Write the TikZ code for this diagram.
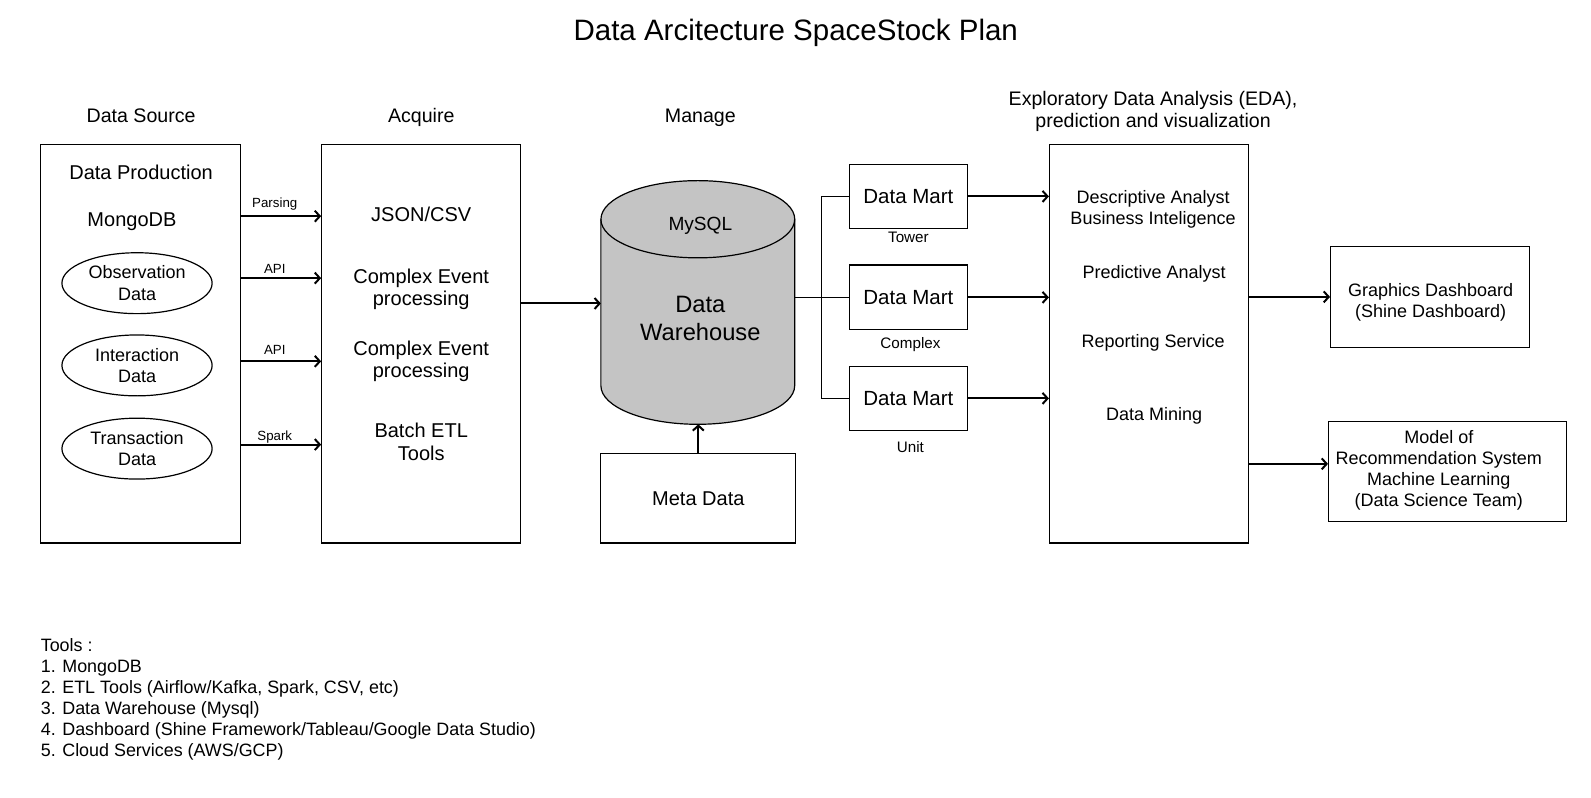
\documentclass[tikz,border=0pt]{standalone}
\usepackage{fontspec}
\setmainfont{Liberation Sans}
\usetikzlibrary{arrows.meta,shapes.geometric}
\definecolor{dwgray}{RGB}{196,196,196}
\newcommand{\uu}{1.015}
\tikzset{
  box/.style={draw, line width=1.2pt, inner sep=0pt},
  oval/.style={draw, ellipse, line width=1.2pt, inner sep=0pt, minimum width=\uu*148pt, minimum height=\uu*60pt, align=center, font=\fontsize{18}{21.3}\selectfont},
  arr/.style={line width=2pt, -{Straight Barb[length=5pt,width=11pt,line width=2pt]}},
  link/.style={line width=1.2pt},
  lbl/.style={font=\fontsize{13.3}{15}\selectfont, inner sep=0pt, anchor=base},
  hdr/.style={font=\fontsize{19.6}{22.3}\selectfont, align=center},
  txt/.style={font=\fontsize{20}{22.5}\selectfont, align=center},
  dmtxt/.style={font=\fontsize{20.5}{23}\selectfont},
  stxt/.style={font=\fontsize{18}{21}\selectfont, align=center},
  dmcaption/.style={font=\fontsize{15.2}{17}\selectfont, anchor=base},
}
\begin{document}
\begin{tikzpicture}[x=1.015pt,y=-1.015pt]
\useasboundingbox (0,0) rectangle (1567.49,786.21);
% title and headers
\node[font=\fontsize{29.5}{34}\selectfont, anchor=base] (title) at (784,39.6) {Data Arcitecture SpaceStock Plan};
\node[hdr, anchor=base] (hsrc) at (139,121) {Data Source};
\node[hdr, anchor=base] (hacq) at (415,121) {Acquire};
\node[hdr, anchor=base] (hman) at (690,121) {Manage};
\node[hdr] (heda) at (1136,110) {Exploratory Data Analysis (EDA),\\prediction and visualization};
% data source
\node[box, minimum width=\uu*197pt, minimum height=\uu*393pt] (src) at (138.5,338.5) {};
\node[txt, anchor=base] (prod) at (139,177.2) {Data Production};
\node[txt, anchor=base] (mongo) at (130,223.2) {MongoDB};
\node[oval] (obs) at (135,279) {Observation\\Data};
\node[oval] (inter) at (135,360) {Interaction\\Data};
\node[oval] (trans) at (135,442) {Transaction\\Data};
% acquire
\node[box, minimum width=\uu*196pt, minimum height=\uu*393pt] (acq) at (415,338.5) {};
\node[txt, anchor=base] (json) at (415,218.2) {JSON/CSV};
\node[txt] (cep1) at (415,285) {Complex Event\\processing};
\node[txt] (cep2) at (415,356) {Complex Event\\processing};
\node[txt] (batch) at (415,435.5) {Batch ETL\\Tools};
% arrows source -> acquire
\draw[arr] (src.east |- 0,213) -- node[lbl, pos=.42, yshift=8.3pt] {Parsing} (acq.west |- 0,213);
\draw[arr] (src.east |- 0,274) -- node[lbl, pos=.42, yshift=4.3pt] {API} (acq.west |- 0,274);
\draw[arr] (src.east |- 0,356) -- node[lbl, pos=.42, yshift=6.4pt] {API} (acq.west |- 0,356);
\draw[arr] (src.east |- 0,438) -- node[lbl, pos=.42, yshift=4.3pt] {Spark} (acq.west |- 0,438);
% data warehouse cylinder
\node[inner sep=0pt, outer sep=0pt, minimum width=\uu*191pt, minimum height=\uu*240pt] (dw) at (687.5,298) {};
\fill[dwgray] (dw.west |- 0,216) -- (dw.west |- 0,380)
  arc[start angle=180, end angle=360, x radius=96.9pt, y radius=38.6pt]
  -- (dw.east |- 0,216)
  arc[start angle=0, end angle=180, x radius=96.9pt, y radius=38.6pt] -- cycle;
\draw[link, line join=round] (dw.west |- 0,216) -- (dw.west |- 0,380)
  arc[start angle=180, end angle=360, x radius=96.9pt, y radius=38.6pt]
  -- (dw.east |- 0,216)
  arc[start angle=0, end angle=180, x radius=96.9pt, y radius=38.6pt] -- cycle;
\draw[link] (dw.west |- 0,216) arc[start angle=180, end angle=360, x radius=96.9pt, y radius=38.6pt];
\node[font=\fontsize{19.1}{22}\selectfont, anchor=base] (mysql) at (690,226.9) {MySQL};
\node[font=\fontsize{23.7}{27.5}\selectfont, align=center] (dwt) at (690,314) {Data\\Warehouse};
\draw[arr] (acq.east |- 0,299) -- (dw.west |- 0,299);
% meta data
\node[box, minimum width=\uu*192pt, minimum height=\uu*88pt, txt] (meta) at (688,491) {Meta Data};
\draw[arr] (meta.north) -- (meta.north |- dw.south);
% data marts
\node[box, minimum width=\uu*116pt, minimum height=\uu*63pt, dmtxt] (dm1) at (895,193.5) {Data Mart};
\node[box, minimum width=\uu*116pt, minimum height=\uu*64pt, dmtxt] (dm2) at (895,293) {Data Mart};
\node[box, minimum width=\uu*116pt, minimum height=\uu*63pt, dmtxt] (dm3) at (895,392.5) {Data Mart};
\node[dmcaption] (ctower) at (895,238.5) {Tower};
\node[dmcaption] (ccomplex) at (897,343.5) {Complex};
\node[dmcaption] (cunit) at (897,445.5) {Unit};
\draw[link] (dw.east |- dm2) -- (dm2.west);
\draw[link] (dm1.west) -- ++(-27,0) |- (dm3.west);
% EDA
\node[box, minimum width=\uu*196pt, minimum height=\uu*393pt] (eda) at (1132,338.5) {};
\node[stxt] (desc) at (1136,206) {Descriptive Analyst\\Business Inteligence};
\node[stxt, anchor=base] (pred) at (1137,274.5) {Predictive Analyst};
\node[stxt, anchor=base] (rep) at (1136,342.5) {Reporting Service};
\node[stxt, anchor=base] (mining) at (1137,414.5) {Data Mining};
\draw[arr] (dm1.east) -- (eda.west |- dm1);
\draw[arr] (dm2.east) -- (eda.west |- dm2);
\draw[arr] (dm3.east) -- (eda.west |- dm3);
% outputs
\node[box, minimum width=\uu*196pt, minimum height=\uu*99pt] (gd) at (1409,292.5) {};
\node[stxt] (gdtxt) at (1409.5,298) {Graphics Dashboard\\(Shine Dashboard)};
\node[box, minimum width=\uu*234pt, minimum height=\uu*99pt] (model) at (1426,464.5) {};
\node[stxt] (modeltxt) at (1417.5,463.5) {Model of\\Recommendation System\\Machine Learning\\(Data Science Team)};
\draw[arr] (eda.east |- gd) -- (gd.west);
\draw[arr] (eda.east |- 0,457) -- (model.west |- 0,457);
% tools
\node[anchor=north west, inner sep=0pt, align=left, font=\fontsize{17.9}{20.9}\selectfont] (tools) at (40,629) {Tools :\\1. MongoDB\\2. ETL Tools (Airflow/Kafka, Spark, CSV, etc)\\3. Data Warehouse (Mysql)\\4. Dashboard (Shine Framework/Tableau/Google Data Studio)\\5. Cloud Services (AWS/GCP)};
\end{tikzpicture}
\end{document}
